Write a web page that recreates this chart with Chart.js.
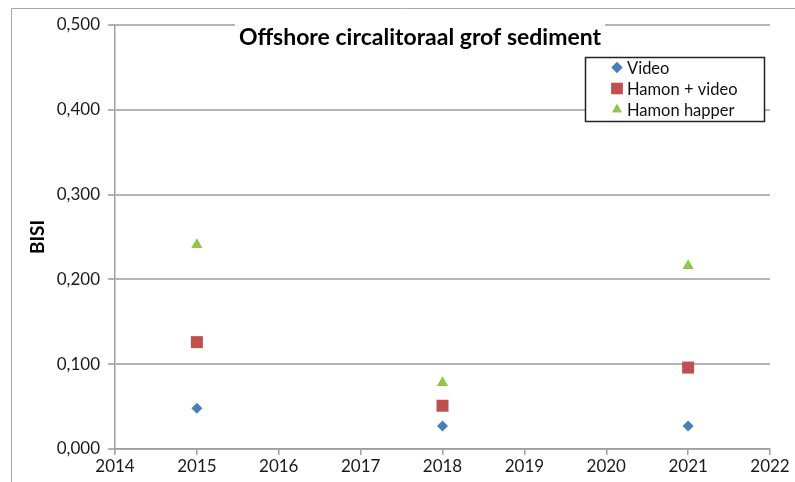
<!DOCTYPE html>
<html>
<head>
<meta charset="utf-8">
<script src="https://cdn.jsdelivr.net/npm/chart.js@4/dist/chart.umd.min.js"></script>
<style>
  html, body { margin: 0; padding: 0; background: #fff; }
  #wrap { width: 795px; height: 482px; position: relative; }
</style>
</head>
<body>
<div id="wrap"><canvas id="bisiChart" width="795" height="482"></canvas></div>
<script>
const chartTitle = "Offshore circalitoraal grof sediment";
const yTitle = "BISI";
const seriesNames = ["Video", "Hamon + video", "Hamon happer"];
const years = [2015, 2018, 2021];
const videoValues = [0.048, 0.027, 0.027];
const hamonVideoValues = [0.126, 0.051, 0.096];
const hamonHapperValues = [0.241, 0.078, 0.216];

const seriesColors = ["#4A7EBB", "#C0504D", "#8CC84B"];
const pointStyles = ["rectRot", "rect", "triangle"];
const pointSizes = [5.5, 8.5, 6.5];
const fontFamily = "Lato, 'Open Sans', sans-serif";

const toPoints = (vals) => years.map((yr, i) => ({ x: yr, y: vals[i] }));

const makeSet = (label, vals, i) => ({
  label: label,
  data: toPoints(vals),
  backgroundColor: seriesColors[i],
  borderColor: seriesColors[i],
  borderWidth: 0,
  pointStyle: pointStyles[i],
  pointRadius: pointSizes[i],
  pointHoverRadius: pointSizes[i],
  showLine: false,
});

// frame, title and boxed legend drawn on the canvas
const decorations = {
  id: "decorations",
  beforeDraw(chart) {
    const ctx = chart.ctx;
    ctx.save();
    ctx.strokeStyle = "#a8a8a8";
    ctx.lineWidth = 1;
    ctx.beginPath();
    ctx.moveTo(11.5, 482);
    ctx.lineTo(11.5, 8.5);
    ctx.lineTo(795, 8.5);
    ctx.stroke();
    ctx.restore();
  },
  afterDatasetsDraw(chart) {
    const ctx = chart.ctx;
    const area = chart.chartArea;
    ctx.save();

    // title with white background over the top gridline
    ctx.font = "bold 23px " + fontFamily;
    const tw = ctx.measureText(chartTitle).width;
    const cx = 420;
    ctx.fillStyle = "#fff";
    ctx.fillRect(cx - tw / 2 - 4, area.top - 4, tw + 8, 30);
    ctx.fillStyle = "#000";
    ctx.textAlign = "center";
    ctx.textBaseline = "middle";
    ctx.fillText(chartTitle, cx, 38);

    // legend box
    const lx = 585, ly = 57, lw = 179, lh = 64;
    ctx.fillStyle = "#fff";
    ctx.fillRect(lx, ly, lw, lh);
    ctx.strokeStyle = "#222";
    ctx.lineWidth = 1.5;
    ctx.strokeRect(lx + 0.5, ly + 0.5, lw, lh);
    ctx.font = "16.5px " + fontFamily;
    ctx.textAlign = "left";
    chart.data.datasets.forEach((ds, i) => {
      const rowY = ly + 10.5 + i * 21;
      ctx.fillStyle = ds.backgroundColor;
      Chart.helpers.drawPoint(ctx, {
        pointStyle: ds.pointStyle,
        radius: ds.pointStyle === "rect" ? 8 : 5.5,
        rotation: 0,
        borderWidth: 0,
      }, 617, rowY);
      ctx.fill();
      ctx.fillStyle = "#111";
      ctx.fillText(ds.label, 627, rowY + 1);
    });
    ctx.restore();
  },
};

document.addEventListener("DOMContentLoaded", function () {
  new Chart("bisiChart", {
    type: "scatter",
    data: {
      datasets: [
        makeSet(seriesNames[0], videoValues, 0),
        makeSet(seriesNames[1], hamonVideoValues, 1),
        makeSet(seriesNames[2], hamonHapperValues, 2),
      ],
    },
    options: {
      responsive: false,
      animation: false,
      layout: { padding: { top: 25, right: 25, left: 0, bottom: 0 } },
      plugins: {
        legend: { display: false },
        title: { display: false },
        tooltip: { enabled: false },
      },
      scales: {
        x: {
          type: "linear",
          min: 2014,
          max: 2022,
          afterFit: (scale) => { scale.height = 33; },
          ticks: {
            stepSize: 1,
            padding: 1,
            color: "#1a1a1a",
            font: { family: fontFamily, size: 17 },
            callback: (v) => String(v),
          },
          grid: {
            drawOnChartArea: false,
            drawTicks: true,
            tickLength: 6,
            color: "#a0a0a0",
            lineWidth: 1.5,
          },
          border: { color: "#a0a0a0", width: 1.5 },
        },
        y: {
          min: 0,
          max: 0.5,
          afterFit: (scale) => { scale.width = 115; },
          title: {
            display: true,
            text: yTitle,
            color: "#000",
            font: { family: fontFamily, size: 19, weight: "bold" },
            padding: { top: 26 },
          },
          ticks: {
            stepSize: 0.1,
            padding: 8,
            color: "#1a1a1a",
            font: { family: fontFamily, size: 17 },
            callback: (v) => v.toFixed(3).replace(".", ","),
          },
          grid: {
            color: "#b4b4b4",
            lineWidth: 2,
            tickLength: 7,
          },
          border: { color: "#a0a0a0", width: 1.5 },
        },
      },
    },
    plugins: [decorations],
  });
});
</script>
</body>
</html>
